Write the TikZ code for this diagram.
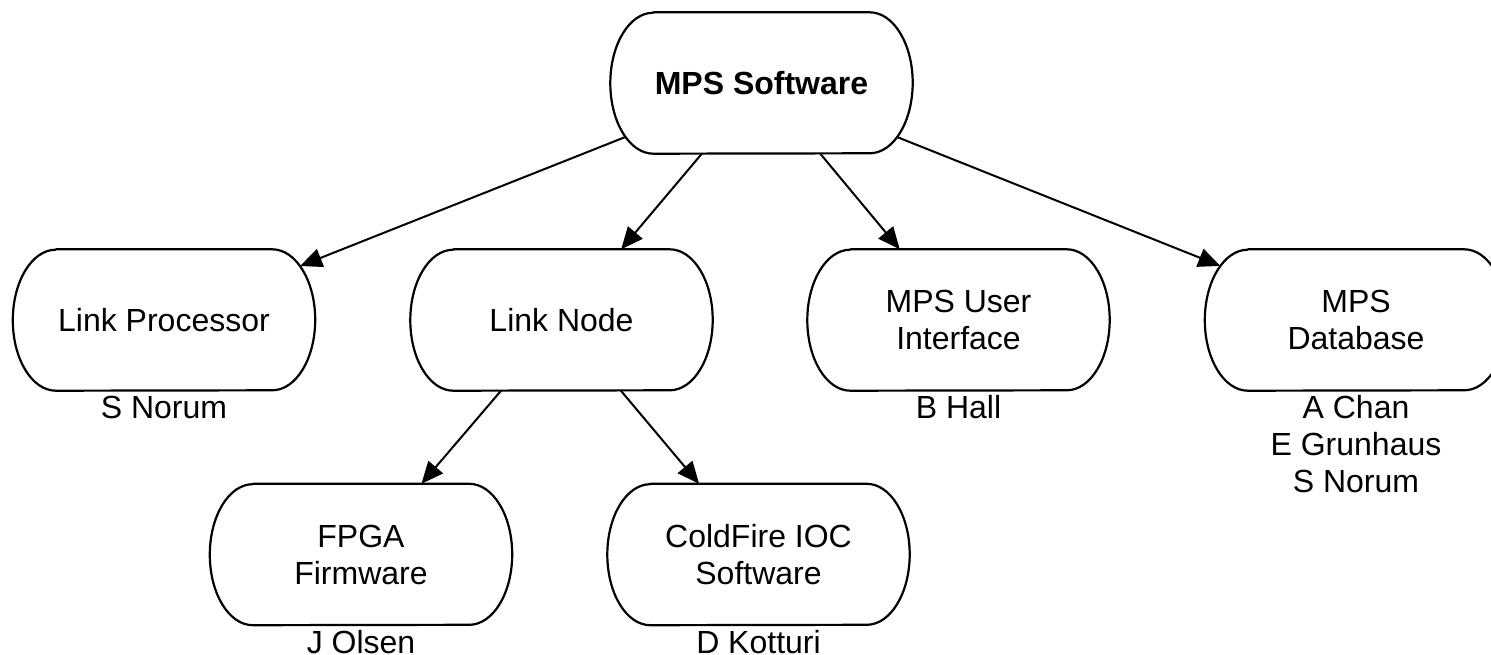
\documentclass[tikz,border=0pt]{standalone}
\usepackage{fontspec}
\setmainfont{Liberation Sans}
\usetikzlibrary{arrows.meta,intersections}

\tikzset{
  termbox/.style={rectangle, draw=none, inner sep=0pt, minimum width=302pt,
    minimum height=141pt, align=center, font=\fontsize{32}{37}\selectfont},
  outline/.style={line width=2.2pt, line join=round},
  conn/.style={line width=2pt, -{Triangle[length=22pt,width=19pt]}},
  person/.style={anchor=base, align=center, inner sep=0pt,
    font=\fontsize{32}{37}\selectfont},
}

% terminator-like outline: straight top and bottom, half-ellipse ends
\newcommand\termoutline[1]{%
  \draw[outline, name path=#1-o] ([xshift=43pt]#1.north west) -- ([xshift=-43pt]#1.north east)
    arc[start angle=90, end angle=-90, x radius=43pt, y radius=70.5pt]
    -- ([xshift=43pt]#1.south west)
    arc[start angle=270, end angle=90, x radius=43pt, y radius=70.5pt] -- cycle;}

% arrow along the centre line, from outline to outline
\newcommand\joinbox[2]{%
  \path[name path=#1-#2-l] (#1.center) -- (#2.center);
  \path[name intersections={of=#1-#2-l and #1-o, by=#1-#2-s}];
  \path[name intersections={of=#1-#2-l and #2-o, by=#1-#2-e}];
  \draw[conn] (#1-#2-s) -- (#1-#2-e);}

\begin{document}
\begin{tikzpicture}[x=1pt,y=1pt]
\useasboundingbox (0,0) rectangle (1491,-655);
\clip (0,0) rectangle (1491,-655);

% boxes
\node[termbox] (ms) at (761.5,-83)   {\bfseries MPS Software};
\node[termbox] (lp) at (164,-320)    {Link Processor};
\node[termbox] (ln) at (561.5,-320)  {Link Node};
\node[termbox] (ui) at (958.5,-320)  {MPS User\\Interface};
\node[termbox] (db) at (1356,-320)   {MPS\\Database};
\node[termbox] (fp) at (361,-554.5)  {FPGA\\Firmware};
\node[termbox] (cf) at (758.5,-554.5) {ColdFire IOC\\Software};

\foreach \n in {ms,lp,ln,ui,db,fp,cf} {\termoutline{\n}}

% people responsible (base anchor sits on the last line)
\node[person] (lp-who) at ([yshift=-28pt]lp.south) {S Norum};
\node[person] (ui-who) at ([yshift=-28pt]ui.south) {B Hall};
\node[person] (db-who) at ([yshift=-102pt]db.south) {A Chan\\E Grunhaus\\S Norum};
\node[person] (fp-who) at ([yshift=-28pt]fp.south) {J Olsen};
\node[person] (cf-who) at ([yshift=-28pt]cf.south) {D Kotturi};

% hierarchy
\joinbox{ms}{lp}
\joinbox{ms}{ln}
\joinbox{ms}{ui}
\joinbox{ms}{db}
\joinbox{ln}{fp}
\joinbox{ln}{cf}
\end{tikzpicture}
\end{document}
